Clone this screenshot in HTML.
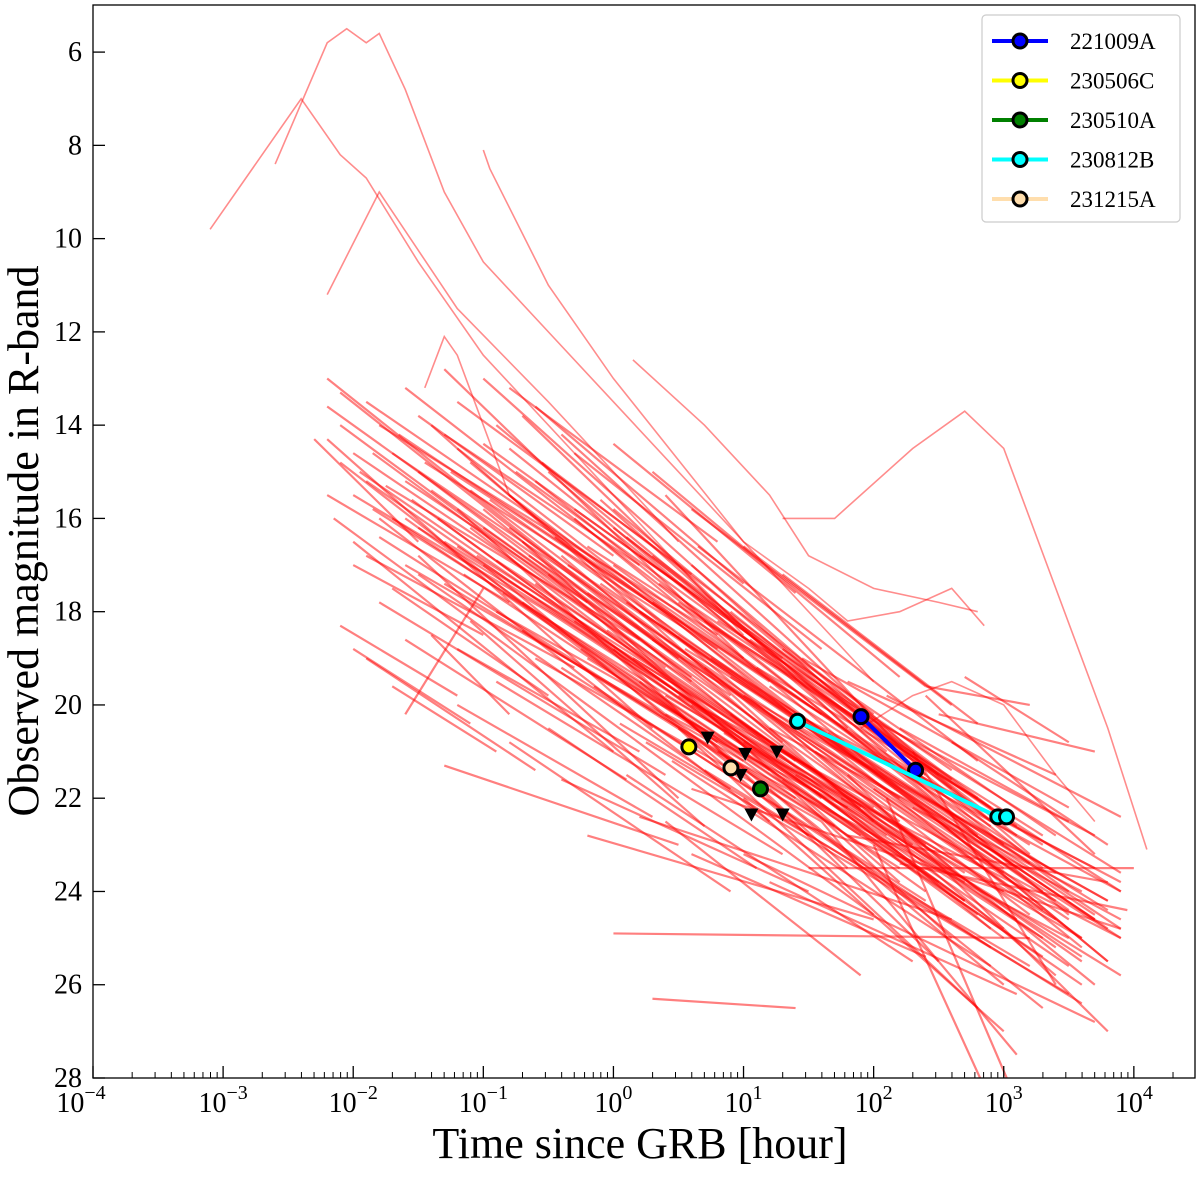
<!DOCTYPE html>
<html><head><meta charset="utf-8"><style>
html,body{margin:0;padding:0;background:#fff}
svg{display:block;font-family:"Liberation Serif",serif}
</style></head><body>
<svg id="chart" width="1200" height="1177" viewBox="0 0 1200 1177">
<defs><clipPath id="clip"><rect x="93" y="5" width="1102" height="1073"/></clipPath></defs>
<g id="lines" clip-path="url(#clip)"></g>
<g id="grbs"></g>
<rect x="93" y="5" width="1102" height="1073" fill="none" stroke="#000" stroke-width="1.3"/>
<g id="axes"></g>
<text x="640" y="1158" font-size="44" text-anchor="middle">Time since GRB [hour]</text>
<text transform="translate(38,541) rotate(-90)" font-size="44" text-anchor="middle">Observed magnitude in R-band</text>
<g>
<rect x="982" y="15" width="198" height="207" rx="4" fill="#fff" stroke="#ccc" stroke-width="1.2"/>
<g id="legend"></g>
</g>
</svg>
<script>
// log10(hours), magnitude segments for the background sample
const segs = [
[-2.2,13.0,0.5,19.0],[-2.2,14.3,0.3,20.5],[-2.1,14.8,1.0,21.5],[-2.0,15.5,-0.5,18.0],[-2.0,16.5,0.0,21.0],
[-1.9,13.5,1.5,20.0],[-1.8,14.0,0.8,18.5],[-1.8,16.0,1.2,22.5],[-1.7,17.5,-0.5,19.8],[-1.6,13.2,2.0,21.0],
[-1.5,15.0,2.3,23.0],[-1.5,16.8,0.5,22.0],[-1.4,18.5,-0.8,20.2],[-1.3,12.8,1.0,19.0],[-1.2,14.5,2.5,22.5],
[-1.2,15.8,1.8,23.5],[-1.1,16.2,2.8,24.5],[-1.0,13.0,2.0,20.5],[-1.0,17.0,1.5,22.8],[-0.9,14.0,3.0,23.0],
[-0.9,18.0,1.0,21.0],[-0.8,15.5,3.2,24.0],[-0.7,16.5,2.6,25.0],[-0.7,13.8,1.8,20.5],[-0.6,19.0,1.6,22.5],
[-0.5,15.0,3.5,24.5],[-0.5,17.2,2.2,23.8],[-0.4,14.2,2.5,21.5],[-0.3,18.2,3.0,25.0],[-0.3,16.0,3.8,25.5],
[-0.2,20.0,2.0,24.5],[-0.1,15.6,2.8,22.8],[0.0,17.0,3.5,24.0],[0.0,18.8,2.5,25.5],[0.1,16.4,3.3,23.5],
[0.2,19.5,3.0,26.0],[0.3,17.8,3.6,25.2],[0.4,15.5,2.4,21.5],[0.5,18.5,3.9,24.8],[0.5,20.5,2.8,26.5],
[0.6,17.0,3.2,23.2],[0.7,19.2,3.7,26.0],[0.8,21.0,3.5,25.0],[0.9,18.0,2.9,22.5],[1.0,19.8,3.8,24.2],
[1.0,22.0,3.0,27.0],[1.2,20.5,3.6,24.0],[1.3,18.8,3.4,22.8],[1.4,21.5,3.9,25.8],[1.5,20.0,3.2,23.0],
[1.6,22.5,3.1,27.5],[1.8,19.5,3.4,21.5],[2.0,21.0,3.9,23.8],[2.2,20.5,3.5,22.5],[2.4,19.8,3.7,23.2],
[2.5,22.5,3.8,25.5],[-1.3,21.3,0.5,23.0],[0.3,26.3,1.4,26.5],[0.0,24.9,3.2,25.0],[1.5,23.5,4.0,23.5],
[-2.3,14.3,-1.5,16.5],[-2.1,18.3,-1.2,19.8],[-1.6,20.2,-1.0,17.5],[-2.0,17.0,-1.0,18.5],[2.0,23.0,2.9,28.5],
[2.1,22.0,3.1,28.5],[-2.1,13.3,1.3,20.8],[-1.9,15.2,1.6,22.0],[-1.7,14.6,2.2,22.0],[-1.6,16.0,2.4,24.0],
[-1.4,14.0,2.0,22.5],[-1.3,16.5,1.6,21.5],[-1.1,14.8,2.6,23.5],[-1.0,15.8,2.9,24.8],[-0.8,14.5,2.1,21.0],
[-0.7,17.8,2.7,24.2],[-0.6,15.2,3.1,23.5],[-0.4,16.8,3.4,25.8],[-0.2,17.6,3.0,23.5],[0.0,15.8,2.6,21.8],
[0.2,18.0,3.7,24.5],[0.3,16.8,2.9,22.2],[0.5,19.8,3.4,24.2],[0.7,18.2,3.3,22.8],[0.9,20.2,3.6,25.5],
[1.1,19.2,2.8,22.0],[1.2,21.8,3.3,26.5],[1.4,20.2,3.7,23.5],[-1.8,17.8,0.4,21.5],[-1.5,17.2,0.9,21.8],
[-1.2,18.8,0.2,21.0],[-0.9,19.5,1.3,23.2],[-0.5,20.5,1.1,23.5],[0.1,21.5,2.3,25.5],[0.4,22.5,1.9,25.8],
[-2.2,15.5,-0.8,17.8],[-1.9,16.8,-0.3,19.2],[-1.5,13.8,0.0,16.8],[-1.2,13.5,0.6,17.2],[-0.8,13.2,0.8,16.5],
[0.6,21.8,3.9,24.8],[1.8,21.5,3.8,27.0],[2.3,21.0,3.4,26.0],[1.0,23.2,3.7,26.8],[-0.2,22.8,2.0,24.6],
[-2.2,13.6,0.9,19.8],[-2.1,14.0,1.4,21.2],[-2.0,14.6,0.6,19.5],[-1.95,15.0,2.1,22.8],[-1.85,15.8,1.1,21.0],
[-1.8,16.4,1.7,22.6],[-1.75,15.3,0.2,18.6],[-1.7,16.0,2.5,23.8],[-1.65,14.2,1.2,19.5],[-1.6,17.0,1.0,21.2],
[-1.55,15.6,2.7,24.2],[-1.5,16.2,1.9,22.2],[-1.45,14.8,0.8,18.8],[-1.4,15.4,2.2,22.5],[-1.35,16.0,3.0,24.8],
[-1.3,17.4,1.4,22.0],[-1.25,15.0,1.6,20.2],[-1.2,16.6,2.7,23.8],[-1.15,17.2,0.8,20.8],[-1.1,15.4,3.2,24.5],
[-1.05,16.8,2.0,22.2],[-1.0,14.4,1.3,19.0],[-0.95,15.6,3.3,24.0],[-0.9,16.9,2.4,23.0],[-0.85,17.6,1.9,22.8],
[-0.8,16.2,3.6,25.0],[-0.75,15.0,2.8,22.2],[-0.7,18.4,2.2,23.5],[-0.65,16.8,3.0,23.6],[-0.6,17.4,3.4,25.2],
[-0.55,14.8,2.0,20.2],[-0.5,18.0,3.1,24.6],[-0.45,16.4,2.9,22.6],[-0.4,19.2,2.4,24.2],[-0.35,17.0,3.7,24.6],
[-0.3,15.8,2.6,21.6],[-0.25,18.8,3.3,25.4],[-0.2,16.6,3.9,24.0],[-0.15,19.6,2.9,25.2],[-0.1,17.4,3.5,24.4],
[-0.05,18.4,2.7,23.6],[0.0,16.2,3.1,22.8],[0.05,20.4,3.2,25.6],[0.1,17.8,3.8,24.8],[0.15,19.0,3.0,24.0],
[0.2,16.8,2.6,21.4],[0.25,20.8,3.5,26.2],[0.3,18.6,3.9,25.0],[0.35,17.4,3.3,23.0],[0.4,19.8,3.6,25.0],
[0.45,21.2,2.9,25.6],[0.5,17.8,3.0,22.4],[0.55,18.8,3.8,24.4],[0.6,20.0,3.4,24.6],[0.65,16.6,2.8,21.2],
[0.7,21.4,3.6,26.4],[0.75,19.0,3.2,23.4],[0.8,18.2,3.9,23.6],[0.85,20.6,3.3,25.0],[0.9,19.4,3.7,24.6],
[1.0,20.8,3.5,25.6],[1.05,18.6,3.1,22.6],[1.1,21.0,3.9,25.0],[1.2,19.6,3.4,23.6],[1.3,21.6,3.6,26.0],
[1.35,20.4,3.8,24.2],[1.45,19.0,3.5,22.2],[1.55,21.0,3.3,24.4],[1.65,20.6,3.9,24.0],[1.75,22.0,3.6,25.4],
[1.9,20.2,3.7,22.8],[2.0,21.8,3.5,24.6],[2.1,19.8,3.9,22.4],[2.3,22.2,3.9,24.6],[2.6,20.8,3.8,23.0],
[-1.9,19.0,-0.6,21.4],[-1.6,18.6,0.1,21.6],[-1.2,20.0,0.3,22.4],[-0.8,20.8,0.9,24.0],[-0.4,21.6,1.5,24.0],
[0.2,22.4,2.6,24.6],[0.6,23.2,2.4,25.4],[1.2,23.8,3.1,26.2],[-0.6,13.6,1.0,17.4],[-0.3,14.6,1.6,18.8],
[0.0,14.4,1.4,17.6],[0.3,15.0,2.2,19.4],[0.6,15.8,2.4,19.6],[1.0,16.6,2.6,20.0],[1.3,17.2,2.8,20.4],
[2.4,19.6,3.2,20.0],[2.5,20.2,3.7,21.0],[2.7,19.4,3.5,20.8],[1.8,22.8,3.8,23.8],[2.2,23.4,3.95,24.4],
[-2.15,16.0,-0.2,20.0],[-1.85,14.6,0.4,19.2],[-1.6,15.2,-0.2,17.8],[-1.3,14.2,0.2,17.0],[-1.0,16.2,0.6,19.4],
[-2.0,18.8,-1.1,20.4],[-1.7,19.6,-0.9,21.0],[-0.2,19.0,1.2,21.4],[0.4,20.2,1.8,22.2],[-1.1,18.2,0.7,22.6]
];
// multi-point curves [log10 hours, mag]
const curves = [
[[-3.1,9.8],[-2.7,8.2],[-2.4,7.0],[-2.1,8.2],[-1.9,8.7],[-1.5,10.5],[-1.0,12.5],[0.0,15.5],[1.0,18.5]],
[[-2.6,8.4],[-2.2,5.8],[-2.05,5.5],[-1.9,5.8],[-1.8,5.6],[-1.6,6.8],[-1.3,9.0],[-1.0,10.5],[-0.5,12.0],[0,13.5],[1,16.5],[2,19.5]],
[[-2.2,11.2],[-1.8,9.0],[-1.2,11.5],[-0.5,13.5],[0.5,16.5]],
[[-1.0,8.1],[-0.95,8.5],[-0.5,11],[0,13],[1,16.5],[1.5,17.5]],
[[0.15,12.6],[0.7,14.0],[1.2,15.5],[1.5,16.8],[2.0,17.5],[2.5,17.8],[2.8,18.0]],
[[1.3,16.0],[1.7,16.0],[2.3,14.5],[2.7,13.7],[3.0,14.5],[3.4,17.5],[3.8,20.5],[4.1,23.1]],
[[1.5,17.5],[1.8,18.2],[2.2,18.0],[2.6,17.5],[2.85,18.3]],
[[-1.45,13.2],[-1.3,12.1],[-1.2,12.5],[-0.8,15.5],[0.5,18.5]],
[[1.9,20.5],[2.3,19.8],[2.6,19.5],[3.0,20.0],[3.4,21.5],[3.7,22.5]]
];
// GRB observations: hours, mag
const grbNames = ["221009A","230506C","230510A","230812B","231215A"];
const grbColors = ["#0000ff","#ffff00","#008000","#00ffff","#ffdead"];
const grbT = [[80,210],[3.8],[13.5],[26,900,1050],[8]];
const grbM = [[20.25,21.4],[20.9],[21.8],[20.35,22.4,22.4],[21.35]];
const limT = [5.3,10.3,9.5,18,11.5,20];
const limM = [20.7,21.05,21.5,21.0,22.35,22.35];
const xTickExp = [-4,-3,-2,-1,0,1,2,3,4];
const yTicks = [6,8,10,12,14,16,18,20,22,24,26,28];

const NS="http://www.w3.org/2000/svg";
const X0=93,X1=1195,Y0=5,Y1=1078,LX0=-4,LX1=4.47,M0=4.99,M1=28;
const xs=l=>X0+(l-LX0)/(LX1-LX0)*(X1-X0);
const xh=h=>xs(Math.log10(h));
const ys=m=>Y0+(m-M0)/(M1-M0)*(Y1-Y0);
function mk(tag,attrs,parent){const e=document.createElementNS(NS,tag);for(const k in attrs)e.setAttribute(k,attrs[k]);parent.appendChild(e);return e;}
const gl=document.getElementById('lines');
segs.forEach(s=>{
  const e=mk('line',{x1:xs(s[0]),y1:ys(s[1]),x2:xs(s[2]),y2:ys(s[3]),stroke:'#ff0000','stroke-opacity':0.5,'stroke-width':2.2},gl);
  
  
});
curves.forEach(c=>{
  const e=mk('polyline',{points:c.map(p=>xs(p[0])+','+ys(p[1])).join(' '),fill:'none',stroke:'#ff0000','stroke-opacity':0.45,'stroke-width':1.6},gl);
  
  
});
const gg=document.getElementById('grbs');
limT.forEach((t,i)=>{
  const x=xh(t),y=ys(limM[i]);
  const e=mk('polygon',{points:`${x-7},${y-6} ${x+7},${y-6} ${x},${y+7}`,fill:'#000'},gg);
  
  
});
grbNames.forEach((n,i)=>{
  const T=grbT[i],M=grbM[i];
  if(T.length>1){
    const e=mk('polyline',{points:T.map((t,j)=>xh(t)+','+ys(M[j])).join(' '),fill:'none',stroke:grbColors[i],'stroke-width':4},gg);
    
    
  }
  T.forEach((t,j)=>{
    const e=mk('circle',{cx:xh(t),cy:ys(M[j]),r:7,fill:grbColors[i],stroke:'#000','stroke-width':3},gg);
    
    
  });
});
const ga=document.getElementById('axes');
for(let d=-4;d<=4;d++){
  const e=mk('line',{x1:xs(d),y1:Y1,x2:xs(d),y2:Y1-12,stroke:'#000','stroke-width':1.3},ga);
  
  
  for(let k=2;k<10;k++){
    const l=d+Math.log10(k); if(l>LX1)break;
    const m=mk('line',{x1:xs(l),y1:Y1,x2:xs(l),y2:Y1-6,stroke:'#000','stroke-width':1},ga);
    
    
  }
}
xTickExp.forEach(d=>{
  const t=mk('text',{x:xs(d)-(d===-4?12:0),y:1112,'font-size':28,'text-anchor':'middle'},ga);
  
  
  t.innerHTML='10<tspan dy="-13" font-size="20">'+(d<0?'\u2212'+(-d):d)+'</tspan>';
});
yTicks.forEach(v=>{
  const e=mk('line',{x1:X0,y1:ys(v),x2:X0+12,y2:ys(v),stroke:'#000','stroke-width':1.3},ga);
  
  
  const t=mk('text',{x:82,y:ys(v)+9,'font-size':28,'text-anchor':'end'},ga);
  
  
  t.textContent=v;
});
const lg=document.getElementById('legend');
grbNames.forEach((n,i)=>{
  const y=41+i*39.5;
  const l=mk('line',{x1:992,y1:y,x2:1048,y2:y,stroke:grbColors[i],'stroke-width':4},lg);
  
  
  const c=mk('circle',{cx:1020,cy:y,r:7,fill:grbColors[i],stroke:'#000','stroke-width':3},lg);
  
  
  const t=mk('text',{x:1070,y:y+8,'font-size':23},lg);
  
  
  t.textContent=n;
});
</script>
</body></html>
